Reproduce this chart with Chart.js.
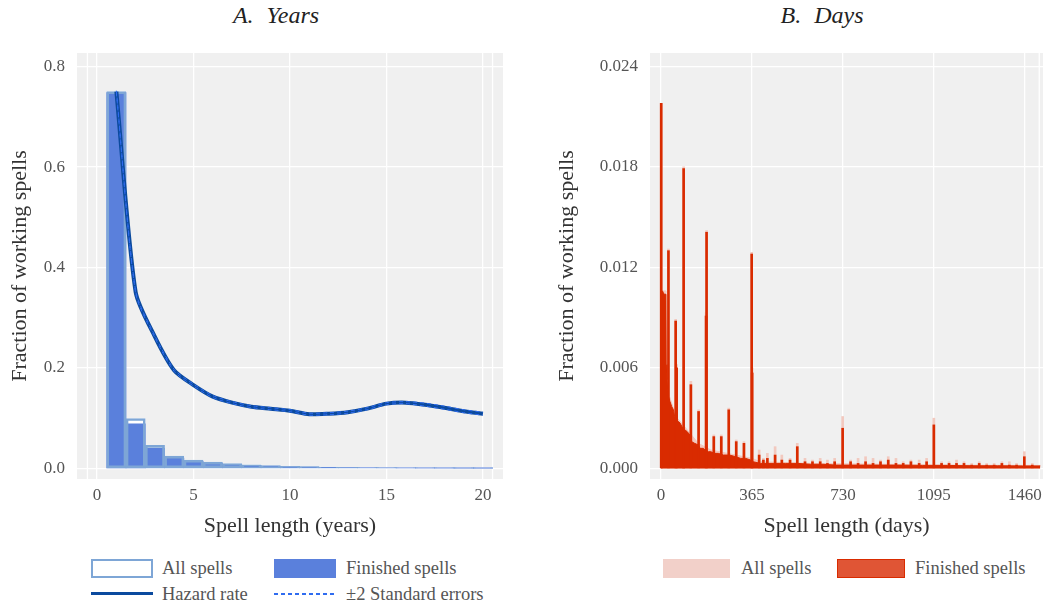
<!DOCTYPE html>
<html>
<head>
<meta charset="utf-8">
<script src="https://cdn.jsdelivr.net/npm/chart.js@4"></script>
<style>
  body { margin: 0; background: #fff; width: 1045px; height: 605px; position: relative; overflow: hidden; font-family: "Liberation Serif", serif; }
  canvas { position: absolute; top: 0; }
  .title { position: absolute; top: 2px; font-style: italic; font-size: 24px; color: #222; transform: translateX(-50%); white-space: nowrap; word-spacing: 7px; }
  .lg { position: absolute; font-size: 18.5px; color: #555; white-space: nowrap; line-height: 20px; }
  .sw { position: absolute; box-sizing: border-box; }
</style>
</head>
<body>
<div class="title" style="left:276px">A. Years</div>
<div class="title" style="left:822px">B. Days</div>
<canvas id="chartYears" width="520" height="545" style="left:0"></canvas>
<canvas id="chartDays" width="505" height="545" style="left:540px"></canvas>

<!-- legend, panel A -->
<div class="sw" style="left:91px;top:559px;width:62px;height:19px;background:#fff;border:2px solid #7ea6d6"></div>
<div class="lg" style="left:162px;top:558px">All spells</div>
<div class="sw" style="left:274px;top:559px;width:62px;height:19px;background:#5a80dc;border:1px solid #5a80dc"></div>
<div class="lg" style="left:346px;top:558px">Finished spells</div>
<div class="sw" style="left:91px;top:592px;width:62px;height:3px;background:#0b4a9e"></div>
<div class="lg" style="left:162px;top:584px">Hazard rate</div>
<div class="sw" style="left:274px;top:593px;width:62px;height:1.5px;background:repeating-linear-gradient(90deg,#2f6cf0 0 4px,transparent 4px 7px)"></div>
<div class="lg" style="left:346px;top:584px">±2 Standard errors</div>

<!-- legend, panel B -->
<div class="sw" style="left:663px;top:559px;width:67px;height:19px;background:#f2d0c9"></div>
<div class="lg" style="left:741px;top:558px">All spells</div>
<div class="sw" style="left:837px;top:559px;width:68px;height:19px;background:#e05535;border:1.5px solid #d92b00"></div>
<div class="lg" style="left:915px;top:558px">Finished spells</div>

<script>
// Panel A: spell length in years
const years = [1, 2, 3, 4, 5, 6, 7, 8, 9, 10, 11, 12, 13, 14, 15, 16, 17, 18, 19, 20];
const allSpellsYears = [0.750, 0.0995, 0.046, 0.0245, 0.0165, 0.0125, 0.0095, 0.0072, 0.0055, 0.0043,
  0.0035, 0.0028, 0.0023, 0.0019, 0.0016, 0.0013, 0.0011, 0.0009, 0.0008, 0.0007];
const finishedYears = [0.748, 0.089, 0.040, 0.0205, 0.014, 0.0105, 0.008, 0.006, 0.0045, 0.0035,
  0.0028, 0.0022, 0.0018, 0.0015, 0.0012, 0.0010, 0.0008, 0.0007, 0.0006, 0.0005];
const hazard = [0.750, 0.351, 0.262, 0.195, 0.166, 0.143, 0.131, 0.123, 0.119, 0.115,
  0.108, 0.109, 0.112, 0.119, 0.129, 0.131, 0.127, 0.121, 0.114, 0.109];
const hazardUpper = [0.752, 0.353, 0.264, 0.197, 0.168, 0.145, 0.133, 0.125, 0.121, 0.117,
  0.110, 0.111, 0.114, 0.121, 0.131, 0.133, 0.130, 0.124, 0.117, 0.112];
const hazardLower = [0.748, 0.349, 0.260, 0.193, 0.164, 0.141, 0.129, 0.121, 0.117, 0.113,
  0.106, 0.107, 0.110, 0.117, 0.127, 0.129, 0.124, 0.118, 0.111, 0.106];
const yearTicksX = [0, 5, 10, 15, 20];
const yearTicksY = [0, 0.2, 0.4, 0.6, 0.8];

// Panel B: spell length in days
const baseDays = [0, 2, 6, 12, 20, 21, 24, 27, 30, 36, 43, 50, 55, 64, 70, 77, 84, 96, 105, 116,
  123, 135, 150, 157, 170, 177, 190, 200, 215, 230, 250, 275, 300, 320, 340, 360, 370, 400, 450,
  500, 550, 600, 650, 700, 760, 850, 950, 1050, 1150, 1250, 1350, 1450, 1522];
const baseFinished = [0.0005, 0.0104, 0.0106, 0.0104, 0.0104, 0.0062, 0.0053, 0.0047, 0.0043, 0.0040,
  0.0037, 0.0035, 0.0031, 0.0029, 0.0028, 0.0027, 0.0025, 0.0023, 0.0022, 0.0020,
  0.0016, 0.0015, 0.0014, 0.0012, 0.0012, 0.0011, 0.0010, 0.0010, 0.0009, 0.0009, 0.0008, 0.0008,
  0.0007, 0.0006, 0.0006, 0.0005, 0.0004, 0.0003, 0.0003, 0.0003, 0.0003, 0.00025, 0.00025,
  0.0002, 0.0002, 0.0002, 0.0002, 0.00018, 0.00018, 0.00016, 0.00016, 0.00015, 0.00015];
const baseAllDays = [0, 2, 20, 21, 30, 60, 100, 150, 200, 300, 365, 400, 600, 900, 1200, 1522];
const baseAll = [0.0006, 0.0106, 0.0106, 0.0065, 0.0045, 0.0031, 0.0024, 0.0015, 0.0011, 0.0008,
  0.0006, 0.0004, 0.0003, 0.00025, 0.0002, 0.00018];
const spikeDays = [1, 30, 59, 63, 91, 120, 151, 181, 183, 212, 242, 272, 302, 333, 364, 366,
  394, 411, 427, 458, 485, 518, 547, 578, 608, 639, 668, 697, 729, 761, 791, 821, 851, 881, 912,
  943, 972, 1003, 1036, 1066, 1095, 1126, 1156, 1186, 1216, 1247, 1277, 1307, 1337, 1368, 1398,
  1427, 1458, 1490];
const spikeFinished = [0.0218, 0.0130, 0.0088, 0.0060, 0.0179, 0.0050, 0.0034, 0.0091, 0.0141, 0.0019,
  0.0019, 0.0035, 0.0016, 0.0015, 0.0128, 0.0057,
  0.0008, 0.0005, 0.0006, 0.0008, 0.0005, 0.0005, 0.0013, 0.0004, 0.0004, 0.0004, 0.0003, 0.0004,
  0.0024, 0.0004, 0.0003, 0.0004, 0.0003, 0.0004, 0.0005, 0.0003, 0.0003, 0.0004, 0.0003, 0.0004,
  0.0026, 0.0003, 0.0003, 0.0003, 0.0003, 0.0002, 0.0003, 0.0002, 0.0002, 0.0003, 0.0002, 0.0002,
  0.0007, 0.0002];
const spikeAll = [0.0218, 0.0131, 0.0089, 0.0062, 0.0180, 0.0052, 0.0035, 0.0093, 0.0142, 0.0020,
  0.0020, 0.0036, 0.0017, 0.0016, 0.0129, 0.0060,
  0.0011, 0.0006, 0.0009, 0.0013, 0.0008, 0.0006, 0.0015, 0.0006, 0.0005, 0.0006, 0.0005, 0.0006,
  0.0031, 0.0005, 0.0006, 0.0007, 0.0006, 0.0005, 0.0007, 0.0006, 0.0004, 0.0005, 0.0005, 0.0006,
  0.0030, 0.0004, 0.0004, 0.0005, 0.0004, 0.0003, 0.0004, 0.0003, 0.0003, 0.0004, 0.0004, 0.0003,
  0.0010, 0.0003];
const dayTicksX = [0, 365, 730, 1095, 1460];
const dayTicksY = [0, 0.006, 0.012, 0.018, 0.024];

Chart.defaults.font.family = '"Liberation Serif", serif';
Chart.defaults.animation = false;

const xy = (xs, ys) => xs.map((x, i) => ({ x: x, y: ys[i] }));

// gray panel behind the grid, plus the extra edge gridlines of the panel
function panelBg(edgeLines) {
  return {
    id: "panelBg",
    beforeDraw(chart) {
      const { ctx, chartArea: a } = chart;
      ctx.save();
      ctx.fillStyle = "#f0f0f0";
      ctx.fillRect(a.left, a.top, a.right - a.left, a.bottom - a.top);
      ctx.restore();
    },
    beforeDatasetsDraw(chart) {
      const { ctx, chartArea: a, scales } = chart;
      ctx.save();
      ctx.strokeStyle = "#ffffff";
      ctx.lineWidth = 1.3;
      edgeLines.forEach((v) => {
        const px = scales.x.getPixelForValue(v);
        ctx.beginPath();
        ctx.moveTo(px, a.top);
        ctx.lineTo(px, a.bottom);
        ctx.stroke();
      });
      ctx.restore();
    },
  };
}

function axisX(title, min, max, ticks) {
  return {
    type: "linear",
    min: min,
    max: max,
    offset: false,
    border: { display: false },
    grid: { color: "#ffffff", lineWidth: 1.3, drawTicks: false, offset: false },
    afterBuildTicks: (s) => { s.ticks = ticks.map((v) => ({ value: v })); },
    afterFit: (s) => {
      s.height = 66;
      s.paddingLeft = 0;
      s.paddingRight = 0;
    },
    ticks: {
      autoSkip: false, maxRotation: 0, padding: 6, color: "#555", font: { size: 17 },
      callback: (v) => String(v),
    },
    title: { display: true, text: title, color: "#333", font: { size: 22 }, padding: { top: 0, bottom: 6 } },
  };
}

function axisY(min, max, ticks, digits, width, titlePad) {
  return {
    min: min,
    max: max,
    border: { display: false },
    grid: { color: "#ffffff", lineWidth: 1.3, drawTicks: false },
    afterBuildTicks: (s) => { s.ticks = ticks.map((v) => ({ value: v })); },
    afterFit: (s) => { s.width = width; },
    ticks: { padding: 12, color: "#555", font: { size: 17 }, callback: (v) => v.toFixed(digits) },
    title: {
      display: true, text: "Fraction of working spells", color: "#333",
      font: { size: 22 }, padding: { top: titlePad, bottom: 0 },
    },
  };
}

const commonPlugins = { legend: { display: false }, tooltip: { enabled: false } };
const fullBar = { grouped: false, categoryPercentage: 1, barPercentage: 1 };

// Config Chart Years
new Chart(document.getElementById("chartYears").getContext("2d"), {
  type: "bar",
  data: {
    datasets: [
      {
        type: "line", data: xy(years, hazardUpper), borderColor: "#2f6cf0", borderWidth: 1,
        borderDash: [4, 3], pointRadius: 0, tension: 0.25, order: 0,
      },
      {
        type: "line", data: xy(years, hazardLower), borderColor: "#2f6cf0", borderWidth: 1,
        borderDash: [4, 3], pointRadius: 0, tension: 0.25, order: 0,
      },
      {
        type: "line", data: xy(years, hazard), borderColor: "#0b4a9e", borderWidth: 4,
        pointRadius: 0, tension: 0.25, order: 1,
      },
      {
        ...fullBar, data: xy(years, allSpellsYears), backgroundColor: "rgba(0,0,0,0)",
        borderColor: "#7ea6d6", borderWidth: 2, borderSkipped: false, order: 2,
      },
      {
        ...fullBar, data: xy(years, finishedYears), backgroundColor: "#5a80dc", borderWidth: 0, order: 3,
      },
      {
        ...fullBar, data: xy(years, allSpellsYears), backgroundColor: "#ffffff", borderWidth: 0, order: 4,
      },
    ],
  },
  options: {
    responsive: false,
    devicePixelRatio: 1,
    layout: { padding: { top: 53, right: 17, left: 0, bottom: 0 } },
    scales: {
      x: axisX("Spell length (years)", -1.04, 21.04, yearTicksX),
      y: axisY(-0.021, 0.827, yearTicksY, 1, 77, 7),
    },
    plugins: commonPlugins,
  },
  plugins: [panelBg([-0.5, 20.5])],
});

// Config Chart Days
new Chart(document.getElementById("chartDays").getContext("2d"), {
  type: "bar",
  data: {
    datasets: [
      {
        data: xy(spikeDays, spikeFinished), backgroundColor: "#d92b00", barThickness: 2,
        grouped: false, order: 0,
      },
      {
        type: "line", data: xy(baseDays, baseFinished), borderColor: "#d92b00", backgroundColor: "#d92b00",
        borderWidth: 1, fill: "origin", pointRadius: 0, tension: 0, order: 1,
      },
      {
        data: xy(spikeDays, spikeAll), backgroundColor: "#f2c9bf", barThickness: 2,
        grouped: false, order: 2,
      },
      {
        type: "line", data: xy(baseAllDays, baseAll), borderColor: "#f2c9bf", backgroundColor: "#f2c9bf",
        borderWidth: 1, fill: "origin", pointRadius: 0, tension: 0, order: 3,
      },
    ],
  },
  options: {
    responsive: false,
    devicePixelRatio: 1,
    layout: { padding: { top: 53, right: 2, left: 0, bottom: 0 } },
    scales: {
      x: axisX("Spell length (days)", -44, 1533, dayTicksX),
      y: axisY(-0.00063, 0.0248, dayTicksY, 3, 110, 14),
    },
    plugins: commonPlugins,
  },
  plugins: [panelBg([1518])],
});
</script>
</body>
</html>
